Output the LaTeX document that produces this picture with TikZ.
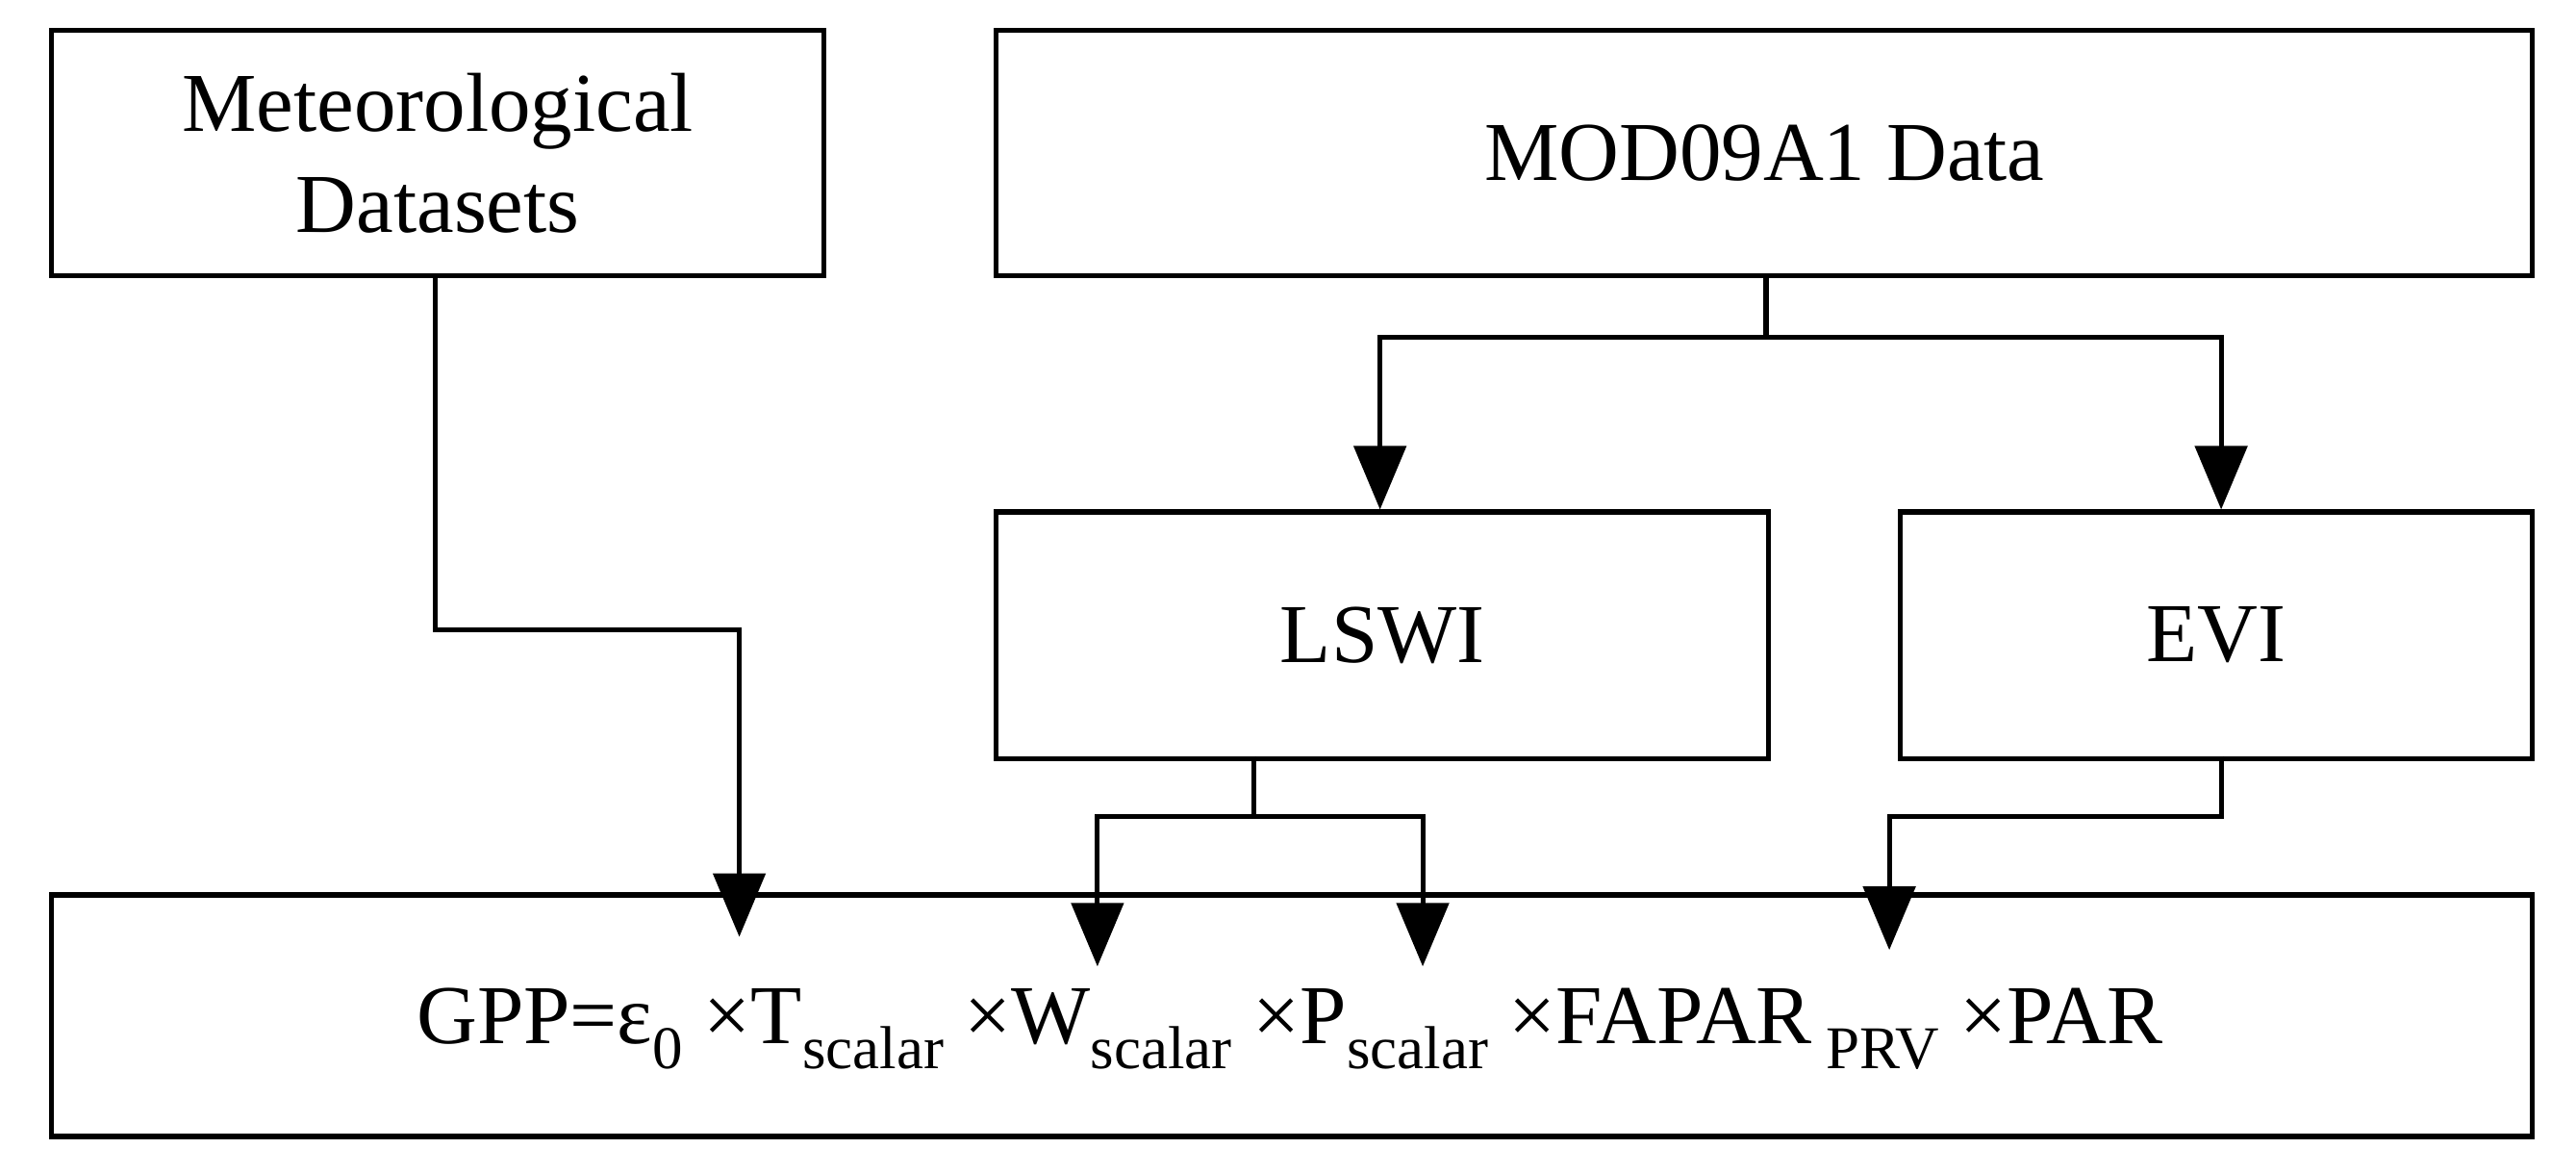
\documentclass[tikz,border=0pt]{standalone}
\usepackage{fontspec}
\setmainfont{Liberation Serif}
\usetikzlibrary{arrows.meta}
\newcommand{\sbs}[1]{\raisebox{-0.3em}{\fontsize{21}{21}\selectfont #1}}
\begin{document}
\begin{tikzpicture}[x=0.02cm,y=-0.02cm,
  box/.style={draw,line width=1.7pt,anchor=north west,inner sep=0pt,align=center,font=\fontsize{29}{35}\selectfont},
  ln/.style={line width=1.7pt},
  arr/.style={ln,-{Triangle[length=22pt,width=18pt]}}]
\useasboundingbox (0,0) rectangle (1568,714);
\node[box,minimum width=470*0.02cm,minimum height=149*0.02cm] (met) at (30,17) {Meteorological\\Datasets};
\node[box,minimum width=935*0.02cm,minimum height=149*0.02cm] (mod) at (605,17) {MOD09A1 Data};
\node[box,minimum width=470*0.02cm,minimum height=150*0.02cm] (lswi) at (605,310) {LSWI};
\node[box,minimum width=385*0.02cm,minimum height=150*0.02cm] (evi) at (1155,310) {EVI};
\node[box,minimum width=1510*0.02cm,minimum height=147*0.02cm] (gpp) at (30,543) {};
\node[font=\fontsize{29}{35}\selectfont,anchor=base] (f) at (785,635) {GPP=ε\sbs{0} ×T\sbs{scalar} ×W\sbs{scalar} ×P\sbs{scalar} ×FAPAR\,\sbs{PRV} ×PAR};
\coordinate (m1) at (265,383);
\coordinate (m2) at (450,383);
\coordinate (t1) at (450,570);
\draw[arr] (met.south -| m1) -- (m1) -- (m2) -- (t1);
\coordinate (j) at (1075,205);
\coordinate (jl) at (840,205);
\coordinate (jr) at (1352,205);
\draw[ln] (j |- mod.south) -- (j);
\draw[arr] (j) -- (jl) -- (jl |- lswi.north);
\draw[arr] (j) -- (jr) -- (jr |- evi.north);
\coordinate (l0) at (763,460);
\coordinate (l1) at (763,497);
\coordinate (la) at (668,497);
\coordinate (lb) at (866,497);
\draw[ln] (l0) -- (l1);
\draw[arr] (l1) -- (la) -- (668,588);
\draw[arr] (l1) -- (lb) -- (866,588);
\coordinate (e0) at (1352,460);
\coordinate (e1) at (1352,497);
\coordinate (e2) at (1150,497);
\draw[arr] (e0) -- (e1) -- (e2) -- (1150,578);
\end{tikzpicture}
\end{document}
